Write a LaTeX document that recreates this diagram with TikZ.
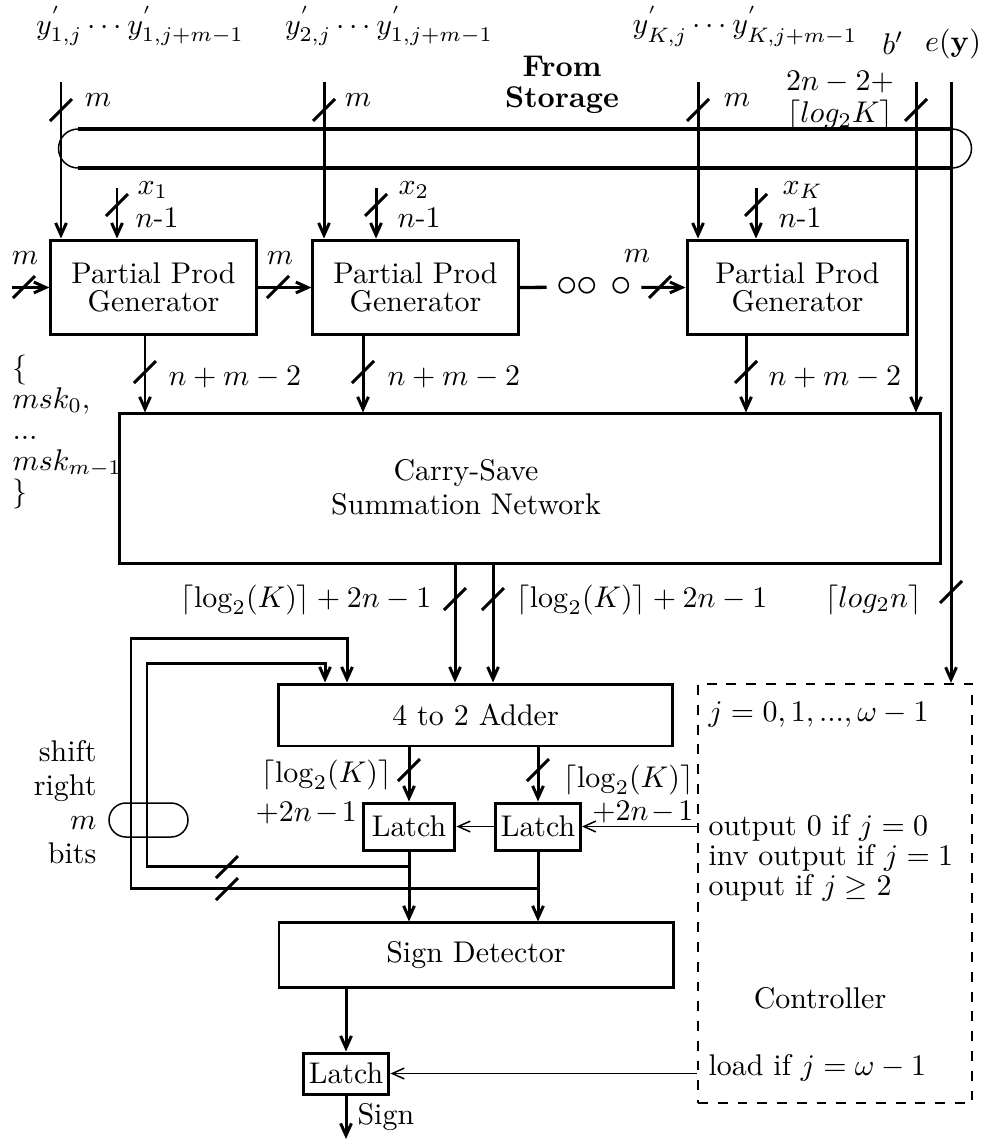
\documentclass[tikz,border=0pt]{standalone}
\usepackage{amsmath,amssymb}
\usepackage{tikz}
\usetikzlibrary{arrows.meta, positioning, calc}

\begin{document}
\begin{tikzpicture}[x=0.334pt, y=-0.334pt,
    box/.style={rectangle, draw, line width=1pt, inner sep=0pt, align=center,
        font=\fontsize{10}{9.5}\selectfont},
    ppgbox/.style={box, minimum width=68.5pt, minimum height=31.7pt},
    latchbox/.style={box, minimum width=28.4pt, minimum height=15.7pt},
    ctrlbox/.style={rectangle, draw, line width=0.7pt, dash pattern=on 3.3pt off 3.3pt,
        minimum width=91.5pt, minimum height=140pt, inner sep=0pt},
    txt/.style={inner sep=0pt},
    wire/.style={line width=1.1pt},
    arrow/.style={-{Straight Barb[length=4pt,width=3.6pt]}, line width=1pt},
    thinarrow/.style={-{Straight Barb[length=4pt,width=3.6pt]}, line width=0.5pt},
    busmark/.style={line width=1pt}
]
\useasboundingbox (0,0) rectangle (987,1141);

% blocks
\node[ppgbox] (ppg1) at (153.5,287.5) {Partial Prod\\Generator};
\node[ppgbox] (ppg2) at (415.5,287.5) {Partial Prod\\Generator};
\node[ppgbox, minimum width=73.8pt] (ppgK) at (797.5,287.5) {Partial Prod\\Generator};
\node[box, minimum width=273.9pt, minimum height=49.8pt] (cssn) at (530,488.5) {};
\node[txt, align=center, font=\fontsize{10}{11.3}\selectfont] (cssnlab) at (466,487) {Carry-Save\\Summation Network};
\node[box, minimum width=131.3pt, minimum height=20.7pt] (adder) at (475.5,715) {4 to 2 Adder};
\node[latchbox, minimum width=30.7pt] (latch1) at (409,826.5) {Latch};
\node[latchbox] (latch2) at (538,826.5) {Latch};
\node[box, minimum width=131.6pt, minimum height=21.4pt] (sign) at (476,955) {Sign Detector};
\node[latchbox, minimum width=28.7pt, minimum height=13.7pt] (latch3) at (346,1073.5) {Latch};
\node[ctrlbox] (ctrl) at (835,893.5) {};

% storage bus
\draw[wire] (78,129) -- (952,129) (78,168) -- (952,168);
\draw[line width=0.5pt] (78,129) arc[start angle=270, end angle=90, radius=19.5];
\draw[line width=0.5pt] (952,129) arc[start angle=270, end angle=450, radius=19.5];
\node[txt, align=center, font=\fontsize{10}{10.5}\selectfont\bfseries] (store) at (562,85) {From\\Storage};

% top labels
\node[txt] (ylab1) at (140,26) {$y^{'}_{1,j}\cdots y^{'}_{1,j+m-1}$};
\node[txt] (ylab2) at (389,26) {$y^{'}_{2,j}\cdots y^{'}_{1,j+m-1}$};
\node[txt] (ylabK) at (745,26) {$y^{'}_{K,j}\cdots y^{'}_{K,j+m-1}$};
\node[txt] (blab) at (893,43) {$b'$};
\node[txt] (elab) at (953,44) {$e(\mathbf{y})$};
\node[txt, align=center, font=\fontsize{10}{10.7}\selectfont] (bwid) at (840,101) {$2n-2+$\\$\lceil log_2K\rceil$};

% inputs
\coordinate (in1) at (61,82);
\coordinate (in2) at (324,82);
\coordinate (inK) at (698,82);
\coordinate (bin) at (916,82);
\coordinate (ein) at (951,82);
\coordinate (xin1) at (117,188);
\coordinate (xin2) at (376,188);
\coordinate (xinK) at (756,188);
\coordinate (min) at (12,287.5);
\draw[arrow] (in1) -- (in1 |- ppg1.north);
\draw[arrow] (in2) -- (in2 |- ppg2.north);
\draw[arrow] (inK) -- (inK |- ppgK.north);
\draw[arrow] (bin) -- (bin |- cssn.north);
\draw[arrow] (ein) -- (ein |- ctrl.north);
\draw[arrow] (xin1) -- (xin1 |- ppg1.north);
\draw[arrow] (xin2) -- (xin2 |- ppg2.north);
\draw[arrow] (xinK) -- (xinK |- ppgK.north);
\node[txt] (m1) at (98,100) {$m$};
\node[txt] (m2) at (358,100) {$m$};
\node[txt] (mK) at (737,100) {$m$};
\node[txt, anchor=west] (x1) at (137,190) {$x_1$};
\node[txt, anchor=west] (n1) at (135,218) {$n$-1};
\node[txt, anchor=west] (x2) at (398,190) {$x_2$};
\node[txt, anchor=west] (n2) at (397,218) {$n$-1};
\node[txt, anchor=west] (xK) at (782,190) {$x_K$};
\node[txt, anchor=west] (nK) at (778,218) {$n$-1};

% chain between generators
\node[txt, inner xsep=3pt, font=\Large] (dots) at (594,287) {$\circ\mkern-4.5mu\circ\mkern1mu\circ$};
\draw[arrow] (min) -- (ppg1.west);
\draw[arrow] (ppg1.east) -- (ppg2.west);
\draw[wire] (ppg2.east) -- (dots);
\draw[arrow] (dots) -- (ppgK.west);
\node[txt] (mh1) at (25,258) {$m$};
\node[txt] (mh2) at (280,258) {$m$};
\node[txt] (mhK) at (637,256) {$m$};

% partial products into the summation network
\coordinate (q1) at (145,0);
\coordinate (q2) at (363,0);
\coordinate (qK) at (746,0);
\draw[arrow] (q1 |- ppg1.south) -- (q1 |- cssn.north);
\draw[arrow] (q2 |- ppg2.south) -- (q2 |- cssn.north);
\draw[arrow] (qK |- ppgK.south) -- (qK |- cssn.north);
\node[txt, anchor=west] (w1) at (168,377) {$n+m-2$};
\node[txt, anchor=west] (w2) at (387,377) {$n+m-2$};
\node[txt, anchor=west] (wK) at (768,377) {$n+m-2$};
\node[txt, anchor=north west, align=left, font=\fontsize{10}{10.4}\selectfont] (msk) at (12,354)
    {$\{$\\$msk_0,$\\...\\$msk_{m-1}$\\$\}$};

% summation network to adder
\coordinate (r1) at (455,0);
\coordinate (r2) at (493,0);
\draw[arrow] (r1 |- cssn.south) -- (r1 |- adder.north);
\draw[arrow] (r2 |- cssn.south) -- (r2 |- adder.north);
\node[txt, anchor=east] (s1) at (432,600) {$\lceil\log_2(K)\rceil+2n-1$};
\node[txt, anchor=west] (s2) at (516,600) {$\lceil\log_2(K)\rceil+2n-1$};
\node[txt, anchor=east] (s3) at (922,600) {$\lceil log_2n\rceil$};

% adder to latches
\draw[arrow] (latch1 |- adder.south) -- (latch1.north);
\draw[arrow] (latch2 |- adder.south) -- (latch2.north);
\node[txt, anchor=east] (a1) at (392,775) {$\lceil\log_2(K)\rceil$};
\node[txt, anchor=west] (a1b) at (255,813) {$+2n\mkern-2mu-\mkern-2mu1$};
\node[txt, anchor=east, align=right, font=\fontsize{10}{11}\selectfont] (a2) at (694,794)
    {$\lceil\log_2(K)\rceil$\\$+2n\mkern-2mu-\mkern-2mu1$};
\draw[thinarrow] (latch2.west) -- (latch1.east);
\draw[thinarrow] (ctrl.west |- latch2) -- (latch2.east);

% latches to sign detector, feedback loops
\coordinate (fb1) at (409,866);
\coordinate (fb2) at (538,888);
\coordinate (fa1) at (325,0);
\coordinate (fa2) at (347,0);
\draw[arrow] (latch1.south) -- (latch1 |- sign.north);
\draw[arrow] (latch2.south) -- (latch2 |- sign.north);
\draw[arrow] (fb1) -| (147,663) -| (fa1 |- adder.north);
\draw[arrow] (fb2) -| (131,638) -| (fa2 |- adder.north);
\draw[line width=0.5pt] (126,803) -- (171,803) arc[start angle=270, end angle=450, radius=17]
    -- (126,837) arc[start angle=90, end angle=270, radius=17];
\node[txt, anchor=east, align=right, font=\fontsize{10}{11.3}\selectfont] (shift) at (97,802)
    {shift\\right\\$m$\\bits};

% sign output
\coordinate (sout) at (346,1139);
\draw[arrow] (latch3 |- sign.south) -- (latch3.north);
\draw[thinarrow] (ctrl.west |- latch3) -- (latch3.east);
\draw[arrow] (latch3.south) -- (sout);
\node[txt, anchor=west] (signlab) at (357,1117) {Sign};

% controller
\node[txt, anchor=west] (c1) at (708,715) {$j=0,1,...,\omega-1$};
\node[txt, anchor=west, align=left, font=\fontsize{10}{10}\selectfont] (c2) at (708,858)
    {output 0 if $j=0$\\inv output if $j=1$\\ouput if $j\geq2$};
\node[txt] (c3) at (820,998) {Controller};
\node[txt, anchor=west] (c4) at (708,1068) {load if $j=\omega-1$};

% bus width marks
\foreach \x/\y in {61/110, 324/110, 698/110, 916/110, 117/205, 376/205, 756/205,
    24/287, 278/287, 660/287, 145/372, 363/372, 746/372, 455/599, 493/599,
    951/592, 409/770, 538/770, 227/867, 227/889}
    \draw[busmark] (\x,\y) +(-11,11) -- +(11,-11);
\end{tikzpicture}
\end{document}
